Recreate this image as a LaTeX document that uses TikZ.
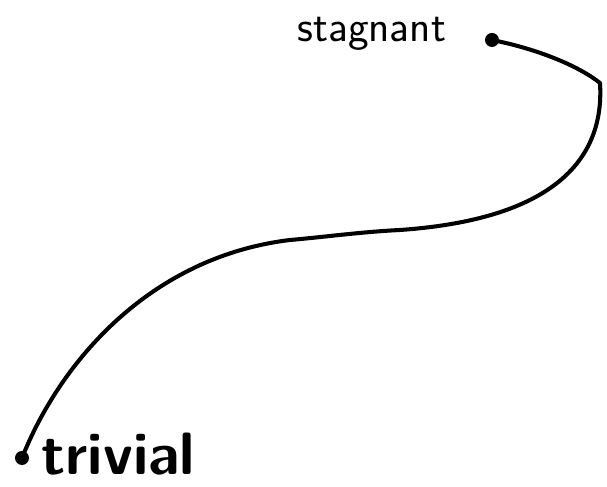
\documentclass[tikz,border=0pt]{standalone}
\usepackage{tikz}
\usetikzlibrary{positioning}

\begin{document}
\begin{tikzpicture}[
  curveline/.style={line width=2.3pt, line cap=round, line join=round, color=black},
  enddot/.style={circle, fill=black, inner sep=0pt, minimum size=0.28cm},
  quiet/.style={font=\sffamily\fontsize{25}{28}\selectfont},
  loud/.style={font=\sffamily\bfseries\fontsize{34}{38}\selectfont}
]
\useasboundingbox (0,0) rectangle (12.14,9.74);
\node[enddot] (stagdot) at (9.84,8.94) {};
\node[enddot] (trivdot) at (0.44,0.58) {};
\node[quiet, left=0.65cm of stagdot, yshift=0.12cm] (stag) {stagnant};
\node[loud, right=0.12cm of trivdot, yshift=0.08cm] (triv) {trivial};
\coordinate (bend) at (12.0,8.08);
\coordinate (flat) at (8.0,5.14);
\coordinate (knee) at (5.8,4.94);

\draw[curveline] (stagdot.center) .. controls (10.8,8.75) and (11.6,8.4) .. (bend)
  .. controls (12.1,6.5) and (11.0,5.35) .. (flat)
  .. controls (7.2,5.1) and (6.5,5.0) .. (knee)
  .. controls (3.0,4.6) and (1.2,2.5) .. (trivdot.center);
\end{tikzpicture}
\end{document}
